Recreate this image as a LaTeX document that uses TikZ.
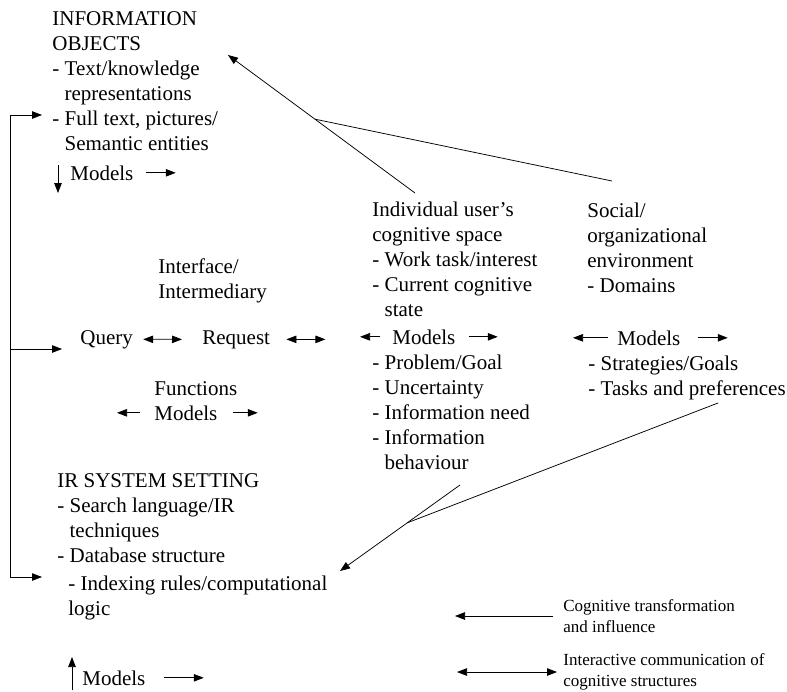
\documentclass[tikz,border=0pt]{standalone}
\usepackage{fontspec}
\setmainfont{Liberation Serif}
\usetikzlibrary{arrows.meta, calc}

\begin{document}
\begin{tikzpicture}[x=1pt, y=-1pt, line width=0.75pt, >={Triangle[length=10pt,width=7.5pt]}]
  \tikzstyle{txt}=[inner sep=0pt, align=left, anchor=north west, font=\fontsize{21}{25}\selectfont]
  \tikzstyle{lbl}=[inner sep=0pt, anchor=base west, font=\fontsize{21}{25}\selectfont]
  \tikzstyle{keytxt}=[inner sep=0pt, align=left, anchor=west, font=\fontsize{17}{21}\selectfont]
  \useasboundingbox (0,0) rectangle (787,691);

  \node[txt] (obj) at (52,11) {INFORMATION\\OBJECTS\\- Text/knowledge\\\hphantom{- }representations\\- Full text, pictures/\\\hphantom{- }Semantic entities};
  \node[lbl] (obj_mod) at (70,180) {Models};

  \node[txt] (iface) at (158,258) {Interface/\\Intermediary};
  \node[lbl] (query) at (80,344) {Query};
  \node[lbl] (request) at (202,344) {Request};
  \node[lbl] (func) at (154,395) {Functions};
  \node[lbl] (func_mod) at (154,420) {Models};

  \node[txt] (user) at (372,202) {Individual user's\\cognitive space\\- Work task/interest\\- Current cognitive\\\hphantom{- }state};
  \node[lbl] (user_mod) at (392,344) {Models};
  \node[txt] (user_list) at (372,355) {- Problem/Goal\\- Uncertainty\\- Information need\\- Information\\\hphantom{- }behaviour};

  \node[txt] (soc) at (587,203) {Social/\\organizational\\environment\\- Domains};
  \node[lbl] (soc_mod) at (617,345) {Models};
  \node[txt] (soc_list) at (588,356) {- Strategies/Goals\\- Tasks and preferences};

  \node[txt] (ir) at (57,473) {IR SYSTEM SETTING\\- Search language/IR\\\hphantom{- }techniques\\- Database structure};
  \node[txt] (ir_idx) at (68,576) {- Indexing rules/computational\\logic};
  \node[lbl] (ir_mod) at (82,685) {Models};

  \node[keytxt] (leg_a) at (563,616) {Cognitive transformation\\and influence};
  \node[keytxt] (leg_b) at (563,672) {Interactive communication of\\cognitive structures};

  \coordinate (L_top) at (10,115);
  \coordinate (L_mid) at (10,349);
  \coordinate (L_bot) at (10,577);
  \coordinate (U_out) at (415,193);
  \coordinate (O_in) at (228,55);
  \coordinate (S_out) at (612,181);
  \coordinate (J_top) at ($(U_out)!0.535!(O_in)$);
  \coordinate (U_low) at (460,485);
  \coordinate (I_in) at (340,571);
  \coordinate (S_low) at (718,403);
  \coordinate (J_bot) at ($(U_low)!0.44!(I_in)$);

  \draw[->] ([shift={(-12,-15)}]obj_mod.base west) -- ++(0,28);
  \draw[->] ([xshift=12]obj_mod.east) -- ++(30,0);
  \draw[<->] ([xshift=10]query.east) -- ([xshift=-20]request.west);
  \draw[<->] ([xshift=16]request.east) -- ++(39,0);
  \draw[->] ([xshift=-14]func_mod.west) -- ++(-23,0);
  \draw[->] ([xshift=15]func_mod.east) -- ++(25,0);
  \draw[->] ([xshift=-12]user_mod.west) -- ++(-20,0);
  \draw[->] ([xshift=13]user_mod.east) -- ++(29,0);
  \draw[->] ([xshift=-9]soc_mod.west) -- ++(-35,0);
  \draw[->] ([xshift=17]soc_mod.east) -- ++(30,0);
  \draw[->] ([shift={(-10,5)}]ir_mod.base west) -- ++(0,-33);
  \draw[->] ([xshift=18]ir_mod.east) -- ++(40,0);

  \draw (L_top) -- (L_bot);
  \draw[->] (L_top) -- ++(32,0);
  \draw[->] (L_mid) -- ++(52,0);
  \draw[->] (L_bot) -- ++(32,0);

  \draw[->] (U_out) -- (O_in);
  \draw (S_out) -- (J_top);
  \draw[->] (U_low) -- (I_in);
  \draw (S_low) -- (J_bot);

  \draw[->] ([xshift=-10]leg_a.west) -- ++(-98,0);
  \draw[<->] ([xshift=-6]leg_b.west) -- ++(-100,0);
\end{tikzpicture}
\end{document}
